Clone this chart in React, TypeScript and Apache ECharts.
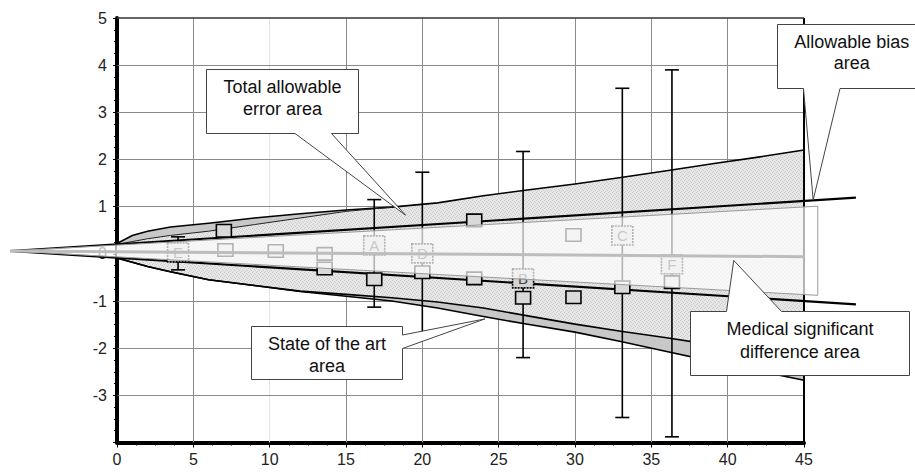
import React, { useEffect, useRef } from "react";
import * as echarts from "echarts";

// ---- data ----
const xs = [0, 1, 2, 3.5, 6, 9, 12, 15, 18, 21, 24, 27, 30, 33, 36, 39, 42, 45];
const outerUpper = [0.22, 0.39, 0.48, 0.57, 0.65, 0.76, 0.85, 0.93, 0.99, 1.08, 1.23, 1.36, 1.48, 1.62, 1.76, 1.91, 2.05, 2.2];
const innerUpper = [0.2, 0.26, 0.32, 0.39, 0.48, 0.62, 0.76, 0.9, 0.99, 1.08, 1.23, 1.36, 1.48, 1.62, 1.76, 1.91, 2.05, 2.2];
const innerLower = [-0.09, -0.18, -0.27, -0.38, -0.55, -0.67, -0.79, -0.86, -0.93, -1.02, -1.15, -1.32, -1.49, -1.64, -1.78, -1.93, -2.1, -2.3];
const outerLower = [-0.09, -0.18, -0.27, -0.38, -0.55, -0.67, -0.8, -0.9, -1.0, -1.15, -1.33, -1.5, -1.66, -1.86, -2.07, -2.28, -2.48, -2.68];

const biasX = [-7, 48.4];
const biasUpper = [0.06, 1.19];
const biasLower = [0.06, -1.07];

const msdX = [-7, 45.9, 45.9];
const msdY = [0.06, 1.01, -0.88];

const centerX = [-7, 45];
const centerY = [0.06, -0.06];

const squareX = [7.0, 7.1, 10.4, 13.6, 13.6, 16.85, 20.0, 23.4, 23.4, 26.6, 29.9, 29.9, 33.1, 36.35];
const squareY = [0.49, 0.08, 0.06, 0.0, -0.31, -0.54, -0.39, 0.71, -0.52, -0.93, -0.92, 0.4, -0.71, -0.6];

const labeledX = [4.0, 16.85, 20.0, 26.6, 33.1, 36.35];
const labeledY = [0.03, 0.18, 0.01, -0.52, 0.39, -0.22];
const labeledText = ["E", "A", "D", "B", "C", "F"];

const barX = [4.0, 16.85, 20.0, 26.6, 33.1, 36.35];
const barLow = [-0.34, -1.13, -1.73, -2.2, -3.47, -3.88];
const barHigh = [0.36, 1.15, 1.73, 2.17, 3.51, 3.9];

const xTicks = [0, 5, 10, 15, 20, 25, 30, 35, 40, 45];
const yTicks = [-4, -3, -2, -1, 0, 1, 2, 3, 4, 5];
const lightGridX = [10];

const calloutLines = [
  ["Total allowable", "error area"],
  ["State of the art", "area"],
  ["Allowable bias", "area"],
  ["Medical significant", "difference area"],
];
const calloutTargets = [
  [18.9, 0.82],
  [24.1, -1.38],
  [45.6, 1.14],
  [40.4, -0.14],
];

// ---- layout (pixels) ----
const calloutBoxes = [
  { l: 206.5, t: 69.5, r: 358.5, b: 133.5, side: "bottom", p1: 295, p2: 331.5, ty: [86.7, 109.3] },
  { l: 251.5, t: 326.5, r: 402.5, b: 379.5, side: "right", p1: 335, p2: 348.5, ty: [344, 366] },
  { l: 777.5, t: 24.5, r: 926, b: 88.5, side: "bottom", p1: 803.5, p2: 840, ty: [41.7, 63.3] },
  { l: 690.5, t: 311.5, r: 909.5, b: 375.5, side: "top", p1: 726.5, p2: 781.5, ty: [329.3, 351.7] },
];

const FONT = "'Liberation Sans', Arial, Helvetica, sans-serif";

function pts(xArr: number[], yArr: number[]) {
  return xArr.map((x, i) => [x, yArr[i]]);
}

function makeStipple() {
  const c = document.createElement("canvas");
  c.width = 4;
  c.height = 4;
  const g = c.getContext("2d")!;
  g.fillStyle = "#e7e7e7";
  g.fillRect(0, 0, 4, 4);
  g.fillStyle = "#cbcbcb";
  g.fillRect(0, 0, 1, 1);
  g.fillRect(2, 1, 1, 1);
  g.fillRect(1, 3, 1, 1);
  g.fillRect(3, 2, 1, 1);
  return c;
}

function polySeries(points: number[][], style: any, z: number) {
  return {
    type: "custom",
    z,
    clip: false,
    silent: true,
    data: [points[0]],
    renderItem: (params: any, api: any) => ({
      type: "polygon",
      shape: { points: points.map((p) => api.coord(p)) },
      style,
    }),
  };
}

function polylineSeries(points: number[][], stroke: string, lineWidth: number, z: number, crisp?: boolean) {
  return {
    type: "custom",
    z,
    clip: false,
    silent: true,
    data: [points[0]],
    renderItem: (params: any, api: any) => ({
      type: "polyline",
      shape: {
        points: points.map((p) => {
          const c = api.coord(p);
          return crisp ? [Math.round(c[0] - 0.5) + 0.5, Math.round(c[1] - 0.5) + 0.5] : c;
        }),
      },
      style: { stroke, lineWidth, fill: "none" },
    }),
  };
}

export default function App() {
  const ref = useRef<HTMLDivElement>(null);

  useEffect(() => {
    document.body.style.margin = "0";
    const chart = echarts.init(ref.current!, null, { renderer: "svg" });

    const xMin = xTicks[0];
    const xMax = xTicks[xTicks.length - 1];
    const yMin = yTicks[0];
    const yMax = yTicks[yTicks.length - 1];

    const outerPoly = [...pts(xs, outerUpper), ...pts(xs, outerLower).reverse()];
    const innerPoly = [...pts(xs, innerUpper), ...pts(xs, innerLower).reverse()];
    const msdPoly = pts(msdX, msdY);

    let stippleFill: any = "#dedede";
    try {
      stippleFill = { image: makeStipple(), repeat: "repeat" };
    } catch (e) {
      stippleFill = "#dedede";
    }

    const gridSeries: any[] = [
      ...xTicks
        .filter((t) => t > xMin && t < xMax)
        .map((t) =>
          polylineSeries([[t, yMin], [t, yMax]], lightGridX.indexOf(t) >= 0 ? "#e4e4e4" : "#8a8a8a", 1, 10, true)
        ),
      ...yTicks
        .filter((t) => t > yMin && t < yMax)
        .map((t) => polylineSeries([[xMin, t], [xMax, t]], "#8a8a8a", 1, 10, true)),
    ];

    const option: any = {
      animation: false,
      grid: { left: 117, right: 111, top: 18, bottom: 31.5, show: false },
      xAxis: {
        type: "value",
        min: xMin,
        max: xMax,
        interval: 5,
        axisLine: { show: true, onZero: false, lineStyle: { color: "#000", width: 4 } },
        axisTick: { show: true, length: 5, lineStyle: { color: "#000", width: 1 } },
        minorTick: { show: true, splitNumber: 4, length: 3, lineStyle: { color: "#000", width: 1 } },
        splitLine: { show: false },
        axisLabel: { fontSize: 16, fontFamily: FONT, color: "#222", margin: 9 },
      },
      yAxis: {
        type: "value",
        min: yMin,
        max: yMax,
        interval: 1,
        axisLine: { show: true, onZero: false, lineStyle: { color: "#000", width: 4 } },
        axisTick: { show: true, length: 4, lineStyle: { color: "#000", width: 1 } },
        minorTick: { show: true, splitNumber: 4, length: 3, lineStyle: { color: "#000", width: 1 } },
        splitLine: { show: false },
        axisLabel: {
          fontSize: 16,
          fontFamily: FONT,
          color: "#222",
          margin: 10,
          formatter: (v: number) => (v === yMin ? "" : String(v)),
        },
      },
      series: [
        ...gridSeries,
        polySeries(outerPoly, { fill: "#c8c8c8" }, 11),
        polySeries(innerPoly, { fill: stippleFill }, 12),
        polylineSeries(pts(xs, outerUpper), "#000", 1.6, 13),
        polylineSeries(pts(xs.slice(0, 9), innerUpper.slice(0, 9)), "#222", 1, 13),
        polylineSeries(pts(xs, innerLower), "#000", 1.6, 13),
        polylineSeries(pts(xs, outerLower), "#000", 1.6, 13),
        polylineSeries(pts(biasX, biasUpper), "#000", 2.2, 14),
        polylineSeries(pts(biasX, biasLower), "#000", 2.2, 14),
        polylineSeries([[xMax, yMin], [xMax, yMax]], "#000", 2, 14),
        polylineSeries([[xMin, yMax], [xMax, yMax]], "#333", 1.5, 14),
        {
          type: "custom",
          z: 15,
          clip: false,
          silent: true,
          encode: { x: 0, y: [1, 2] },
          data: barX.map((x, i) => [x, barLow[i], barHigh[i]]),
          renderItem: (params: any, api: any) => {
            const x = api.value(0);
            const lo = api.coord([x, api.value(1)]);
            const hi = api.coord([x, api.value(2)]);
            const st = { stroke: "#000", lineWidth: 1.6 };
            return {
              type: "group",
              children: [
                { type: "line", shape: { x1: lo[0], y1: lo[1], x2: hi[0], y2: hi[1] }, style: st },
                { type: "line", shape: { x1: hi[0] - 7, y1: hi[1], x2: hi[0] + 7, y2: hi[1] }, style: st },
                { type: "line", shape: { x1: lo[0] - 7, y1: lo[1], x2: lo[0] + 7, y2: lo[1] }, style: st },
              ],
            };
          },
        },
        {
          type: "custom",
          z: 16,
          clip: false,
          silent: true,
          data: pts(squareX, squareY),
          renderItem: (params: any, api: any) => {
            const c = api.coord([api.value(0), api.value(1)]);
            const w = 15, h = 12.5;
            return {
              type: "rect",
              shape: { x: c[0] - w / 2, y: c[1] - h / 2, width: w, height: h },
              style: { fill: "#d9d9d9", stroke: "#000", lineWidth: 1.6 },
            };
          },
        },
        {
          type: "custom",
          z: 16,
          clip: false,
          silent: true,
          data: pts(labeledX, labeledY),
          renderItem: (params: any, api: any) => {
            const c = api.coord([api.value(0), api.value(1)]);
            const w = 21, h = 19;
            return {
              type: "group",
              children: [
                {
                  type: "rect",
                  shape: { x: c[0] - w / 2, y: c[1] - h / 2, width: w, height: h },
                  style: { fill: "#d4d4d4", stroke: "#000", lineWidth: 1.6, lineDash: [2, 1] },
                },
                {
                  type: "text",
                  style: {
                    text: labeledText[params.dataIndex],
                    x: c[0],
                    y: c[1] + 0.5,
                    align: "center",
                    verticalAlign: "middle",
                    textAlign: "center",
                    textVerticalAlign: "middle",
                    fontSize: 15,
                    fontFamily: FONT,
                    fill: "#444",
                  },
                },
              ],
            };
          },
        },
        polySeries(msdPoly, { fill: "rgba(255,255,255,0.7)", stroke: "#999", lineWidth: 1 }, 17),
        polylineSeries(pts(centerX, centerY), "#bdbdbd", 3, 18),
      ],
    };

    chart.setOption(option);

    const graphics: any[] = [];
    calloutBoxes.forEach((b, i) => {
      const t = chart.convertToPixel({ gridIndex: 0 }, calloutTargets[i]) as number[];
      let poly: number[][];
      if (b.side === "bottom") {
        poly = [[b.l, b.t], [b.r, b.t], [b.r, b.b], [b.p2, b.b], [t[0], t[1]], [b.p1, b.b], [b.l, b.b]];
      } else if (b.side === "right") {
        poly = [[b.l, b.t], [b.r, b.t], [b.r, b.p1], [t[0], t[1]], [b.r, b.p2], [b.r, b.b], [b.l, b.b]];
      } else {
        poly = [[b.l, b.t], [b.p1, b.t], [t[0], t[1]], [b.p2, b.t], [b.r, b.t], [b.r, b.b], [b.l, b.b]];
      }
      graphics.push({
        type: "polygon",
        z: 100,
        silent: true,
        shape: { points: poly },
        style: { fill: "#fff", stroke: "#444", lineWidth: 1 },
      });
      const cx = (b.l + b.r) / 2;
      calloutLines[i].forEach((line, j) => {
        graphics.push({
          type: "text",
          z: 101,
          silent: true,
          style: {
            text: line,
            x: cx,
            y: b.ty[j],
            align: "center",
            verticalAlign: "middle",
            textAlign: "center",
            textVerticalAlign: "middle",
            fontSize: 18,
            fontFamily: FONT,
            fill: "#111",
          },
        });
      });
    });
    chart.setOption({ graphic: graphics });

    return () => chart.dispose();
  }, []);

  return <div ref={ref} style={{ width: 915, height: 474 }} />;
}
